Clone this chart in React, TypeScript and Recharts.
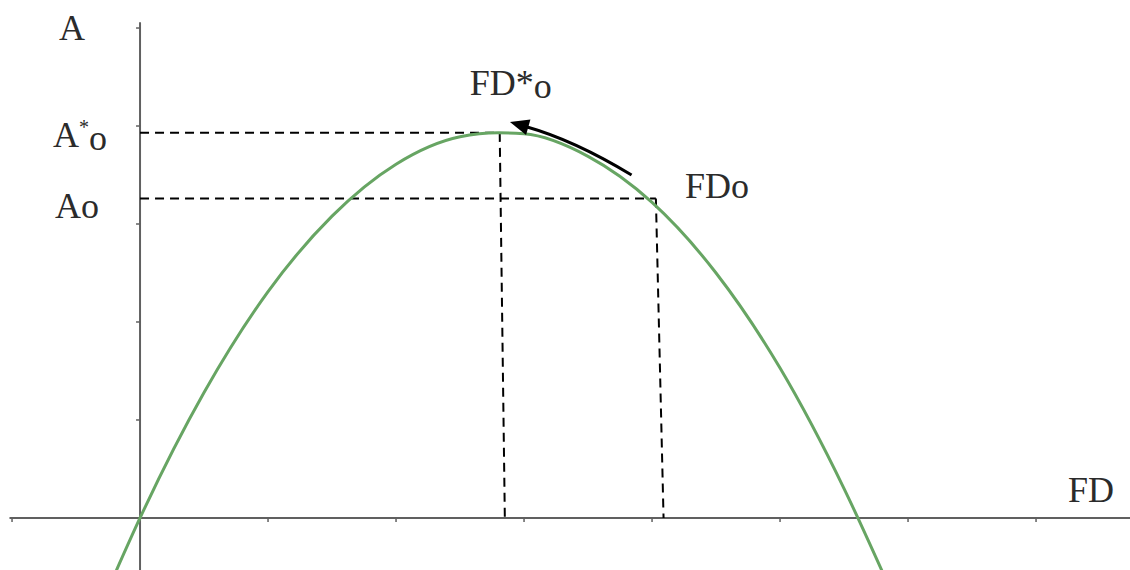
import React from 'react';
import { LineChart, Line, XAxis, YAxis, ReferenceLine, ReferenceDot } from 'recharts';

// FD (x) against A (y)
const fdValues = [-0.2, 0, 0.5, 1, 1.5, 2, 2.5, 2.8, 3, 3.5, 4, 4.5, 5, 5.5, 5.8];
const aValues = [-0.58, 0, 1.28, 2.31, 3.08, 3.61, 3.89, 3.93, 3.92, 3.69, 3.22, 2.5, 1.53, 0.3, -0.55];

const xTicks = [-1, 1, 2, 3, 4, 5, 6, 7];
const yTicks = [1, 2, 3, 4, 5];

// optimum (FD*o, A*o) and starting point (FDo, Ao)
const optimum = { fd: 2.81, a: 3.93 };
const current = { fd: 4.03, a: 3.26 };
const arrowFrom = { fd: 3.84, a: 3.5 };
const arrowTo = { fd: 2.89, a: 4.04 };

const xDomain = [-1.094, 7.734];
const yDomain = [-0.531, 5.286];
const yAxisTop = 5.06;
const xAxisLeft = -1.02;

const data = fdValues.map((fd, i) => ({ fd, a: aValues[i] }));

const FONT = '"Liberation Serif", "DejaVu Serif", serif';
const TEXT = '#2b2b2b';
const AXIS = '#606060';
const GREEN = '#67a563';

const labelShape = (dx: number, dy: number, content: React.ReactNode, anchor: 'start' | 'end' = 'start') =>
  (props: any) => (
    <text x={props.cx + dx} y={props.cy + dy} fontFamily={FONT} fontSize={36} fill={TEXT} textAnchor={anchor}>
      {content}
    </text>
  );

const xTickShape = (props: any) => (
  <line x1={props.cx} y1={props.cy - 1} x2={props.cx} y2={props.cy + 4} stroke={AXIS} strokeWidth={1.5} />
);
const yTickShape = (props: any) => (
  <line x1={props.cx - 4} y1={props.cy} x2={props.cx + 1} y2={props.cy} stroke={AXIS} strokeWidth={1.5} />
);

const CurvedArrow = (props: any) => {
  const { x1, y1, x2, y2 } = props;
  const mx = (x1 + x2) / 2;
  const my = (y1 + y2) / 2;
  const dx = x2 - x1;
  const dy = y2 - y1;
  const len = Math.hypot(dx, dy);
  // bow the shaft upward
  const nx = dy / len;
  const ny = -dx / len;
  const bow = -9;
  const cx = mx + nx * bow;
  const cy = my + ny * bow;
  const tx = x2 - cx;
  const ty = y2 - cy;
  const tl = Math.hypot(tx, ty);
  const ux = tx / tl;
  const uy = ty / tl;
  const head = 19;
  const half = 8;
  const bx = x2 - ux * head;
  const by = y2 - uy * head;
  return (
    <g>
      <path d={`M${x1},${y1} Q${cx},${cy} ${bx + ux * 2},${by + uy * 2}`} fill="none" stroke="#000" strokeWidth={3} />
      <path
        d={`M${x2},${y2} L${bx - uy * half},${by + ux * half} L${bx + uy * half},${by - ux * half} Z`}
        fill="#000"
      />
    </g>
  );
};

export default function App() {
  return (
    <div style={{ position: 'absolute', left: 0, top: 0, background: '#fff' }}>
      <LineChart width={1130} height={570} data={data} margin={{ top: 0, right: 0, bottom: 0, left: 0 }}>
        <XAxis type="number" dataKey="fd" domain={xDomain} allowDataOverflow hide />
        <YAxis type="number" domain={yDomain} allowDataOverflow hide />

        {/* axes through the origin */}
        <ReferenceLine
          segment={[{ x: xAxisLeft, y: 0 }, { x: xDomain[1], y: 0 }]}
          stroke={AXIS}
          strokeWidth={2}
          ifOverflow="visible"
        />
        <ReferenceLine
          segment={[{ x: 0, y: yDomain[0] }, { x: 0, y: yAxisTop }]}
          stroke={AXIS}
          strokeWidth={2}
          ifOverflow="visible"
        />
        {xTicks.map((t) => (
          <ReferenceDot key={`xt-${t}`} x={t} y={0} r={0} shape={xTickShape} ifOverflow="visible" />
        ))}
        {yTicks.map((t) => (
          <ReferenceDot key={`yt-${t}`} x={0} y={t} r={0} shape={yTickShape} ifOverflow="visible" />
        ))}

        {/* dashed guides */}
        <ReferenceLine
          segment={[{ x: 0, y: optimum.a }, { x: optimum.fd, y: optimum.a }]}
          stroke="#000"
          strokeWidth={2}
          strokeDasharray="9 6"
        />
        <ReferenceLine
          segment={[{ x: 0, y: current.a }, { x: current.fd, y: current.a }]}
          stroke="#000"
          strokeWidth={2}
          strokeDasharray="9 6"
        />
        <ReferenceLine
          segment={[{ x: optimum.fd, y: optimum.a }, { x: optimum.fd + 0.04, y: 0 }]}
          stroke="#000"
          strokeWidth={2}
          strokeDasharray="9 6"
        />
        <ReferenceLine
          segment={[{ x: current.fd, y: current.a }, { x: current.fd + 0.06, y: 0 }]}
          stroke="#000"
          strokeWidth={2}
          strokeDasharray="9 6"
        />

        <Line
          type="monotone"
          dataKey="a"
          stroke={GREEN}
          strokeWidth={3}
          dot={false}
          isAnimationActive={false}
        />

        <ReferenceLine
          segment={[{ x: arrowFrom.fd, y: arrowFrom.a }, { x: arrowTo.fd, y: arrowTo.a }]}
          shape={CurvedArrow}
        />

        {/* labels */}
        <ReferenceDot x={0} y={yAxisTop} r={0} ifOverflow="visible" shape={labelShape(-81, 18, 'A')} />
        <ReferenceDot
          x={0}
          y={optimum.a}
          r={0}
          ifOverflow="visible"
          shape={labelShape(
            -87,
            14,
            <>
              A<tspan fontSize={20} dy={-13}>*</tspan>
              <tspan dy={16}>o</tspan>
            </>,
          )}
        />
        <ReferenceDot x={0} y={current.a} r={0} ifOverflow="visible" shape={labelShape(-85, 19, 'Ao')} />
        <ReferenceDot
          x={optimum.fd}
          y={optimum.a}
          r={0}
          ifOverflow="visible"
          shape={labelShape(
            -30,
            -38,
            <>
              FD*<tspan dy={3}>o</tspan>
            </>,
          )}
        />
        <ReferenceDot x={current.fd} y={current.a} r={0} ifOverflow="visible" shape={labelShape(29, -1, 'FDo')} />
        <ReferenceDot x={xDomain[1]} y={0} r={0} ifOverflow="visible" shape={labelShape(-16, -16, 'FD', 'end')} />
      </LineChart>
    </div>
  );
}
